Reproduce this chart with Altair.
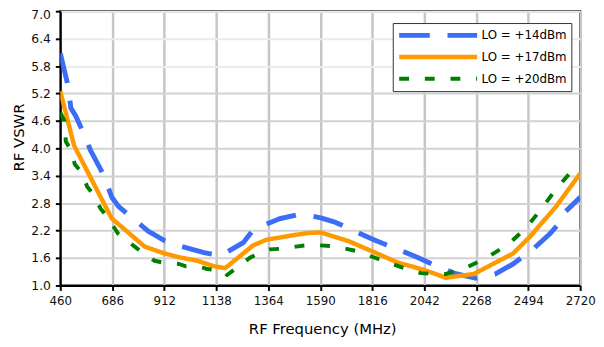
import altair as alt
import pandas as pd

# ---- data ----
series_names = ["LO = +14dBm", "LO = +17dBm", "LO = +20dBm"]

freq_14 = [460, 494, 506, 527, 563, 592, 649, 684, 713, 842, 913, 984, 1085, 1156,
           1256, 1299, 1413, 1485, 1542, 1592, 1657, 1756, 1828, 1928, 2014, 2093,
           2171, 2264, 2350, 2428, 2514, 2586, 2636, 2657, 2720]
vswr_14 = [6.08, 5.36, 4.88, 4.71, 4.31, 3.95, 3.41, 2.93, 2.73, 2.19, 1.98, 1.86, 1.72, 1.65,
           1.94, 2.22, 2.46, 2.54, 2.53, 2.48, 2.38, 2.15, 1.99, 1.79, 1.61, 1.43,
           1.27, 1.16, 1.25, 1.47, 1.79, 2.12, 2.40, 2.62, 2.93]

freq_17 = [460, 520, 683, 827, 913, 984, 1056, 1128, 1177, 1299, 1356, 1485, 1542, 1592,
           1713, 1828, 1928, 2042, 2135, 2257, 2428, 2500, 2614, 2720]
vswr_17 = [5.25, 4.06, 2.47, 1.85, 1.70, 1.61, 1.54, 1.42, 1.38, 1.88, 2.00, 2.11, 2.15, 2.16,
           1.97, 1.72, 1.50, 1.34, 1.17, 1.25, 1.70, 2.06, 2.72, 3.45]

freq_20 = [460, 478, 484, 508, 523, 556, 577, 606, 634, 663, 713, 799, 870, 906, 977, 1006,
           1063, 1099, 1171, 1185, 1256, 1285, 1349, 1370, 1442, 1485, 1542, 1649, 1742,
           1842, 1942, 2028, 2135, 2228, 2314, 2407, 2485, 2550, 2614, 2686, 2720]
vswr_20 = [4.78, 4.60, 4.15, 3.95, 3.65, 3.45, 3.16, 2.98, 2.69, 2.51, 2.12, 1.79, 1.54, 1.50, 1.47, 1.42,
           1.42, 1.36, 1.32, 1.23, 1.50, 1.61, 1.76, 1.79, 1.81, 1.85, 1.89, 1.86, 1.76,
           1.58, 1.40, 1.27, 1.25, 1.40, 1.61, 1.90, 2.26, 2.67, 3.10, 3.52, 3.56]

x_ticks = [460, 686, 912, 1138, 1364, 1590, 1816, 2042, 2268, 2494, 2720]
y_ticks = [1.0, 1.6, 2.2, 2.8, 3.4, 4.0, 4.6, 5.2, 5.8, 6.4, 7.0]

colors = ["#3C6EF5", "#FF9900", "#008000"]
dashes = [[31, 18], [1, 0], [10, 16]]
widths = [5, 4, 5]

rows = []
for name, fs, vs in zip(series_names, [freq_14, freq_17, freq_20], [vswr_14, vswr_17, vswr_20]):
    for f, v in zip(fs, vs):
        rows.append({"series": name, "freq": f, "vswr": v})
df = pd.DataFrame(rows)

FONT = "DejaVu Sans"

legend = alt.Legend(
    title=None,
    orient="none",
    legendX=337,
    legendY=12,
    symbolType="stroke",
    symbolSize=6241,
    symbolStrokeWidth=5,
    clipHeight=17,
    rowPadding=5,
    padding=4,
    labelFont=FONT,
    labelFontSize=12,
    labelColor="black",
    labelLimit=300,
    labelOffset=2,
    fillColor="white",
    strokeColor="#333333",
)

chart = (
    alt.Chart(df)
    .mark_line(strokeCap="butt", strokeJoin="round", clip=True)
    .encode(
        x=alt.X(
            "freq:Q",
            scale=alt.Scale(domain=[460, 2720], nice=False, zero=False),
            axis=alt.Axis(
                values=x_ticks,
                format="d",
                title="RF Frequency (MHz)",
                titleFont=FONT,
                titleFontSize=15,
                titleFontWeight="normal",
                titleColor="black",
                titleX=265.5,
                titleY=49,
                titleBaseline="alphabetic",
                labelFont=FONT,
                labelFontSize=12,
                labelColor="#111111",
                labelPadding=5,
                labelFlush=False,
                labelOverlap=False,
                tickSize=5,
                tickWidth=2,
                tickColor="black",
                domainColor="black",
                domainWidth=2,
                gridColor="#c6c6c6",
                gridWidth=2.5,
            ),
        ),
        y=alt.Y(
            "vswr:Q",
            scale=alt.Scale(domain=[1, 7], nice=False, zero=False),
            axis=alt.Axis(
                values=y_ticks,
                format=".1f",
                title="RF VSWR",
                titleFont=FONT,
                titleFontSize=15,
                titleFontWeight="normal",
                titleColor="black",
                titleAngle=270,
                titleAlign="center",
                titleBaseline="middle",
                titleX=-42,
                titleY=127.5,
                labelFont=FONT,
                labelFontSize=12.5,
                labelColor="#111111",
                labelPadding=5,
                labelFlush=False,
                labelOverlap=False,
                labelOffset={"condition": {"test": "datum.value === 7", "value": 3}, "value": 0},
                tickSize=5,
                tickWidth=2,
                tickColor="black",
                domainColor="black",
                domainWidth=2,
                gridColor={"condition": {"test": "datum.value >= 5.8", "value": "#ebebeb"}, "value": "#d2d2d2"},
                gridWidth=2,
            ),
        ),
        color=alt.Color("series:N", scale=alt.Scale(domain=series_names, range=colors), legend=legend),
        strokeDash=alt.StrokeDash("series:N", scale=alt.Scale(domain=series_names, range=dashes), legend=legend),
        strokeWidth=alt.StrokeWidth("series:N", scale=alt.Scale(domain=series_names, range=widths), legend=None),
    )
    .properties(
        width=527,
        height=278,
        autosize=alt.AutoSizeParams(type="none"),
        padding={"left": 53, "top": 1, "right": 16, "bottom": 52},
        background="white",
    )
    .configure_view(stroke="black", strokeWidth=2)
)

chart.save("out.html", embed_options={"renderer": "svg", "actions": False})
